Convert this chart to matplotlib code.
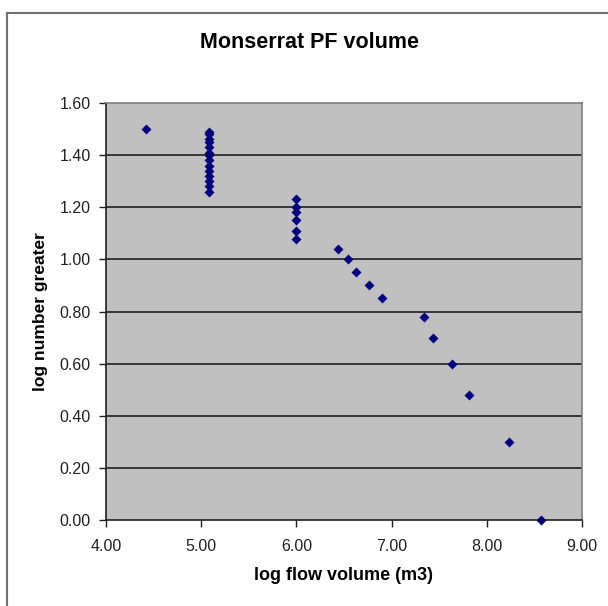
import numpy as np
import matplotlib
matplotlib.use("Agg")
import matplotlib.pyplot as plt
from matplotlib.lines import Line2D

plt.rcParams['font.family'] = ['Liberation Sans', 'DejaVu Sans']

# data
log_volume = [4.42,
              5.08, 5.08, 5.08, 5.08, 5.08, 5.08, 5.08, 5.08, 5.08, 5.08, 5.08, 5.08, 5.08, 5.08,
              6.00, 6.00, 6.00, 6.00, 6.00, 6.00,
              6.44, 6.54, 6.63, 6.76, 6.90, 7.34, 7.44, 7.63, 7.81, 8.23, 8.57]
log_number = [1.50,
              1.49, 1.48, 1.46, 1.45, 1.43, 1.41, 1.40, 1.38, 1.36, 1.34, 1.32, 1.30, 1.28, 1.26,
              1.23, 1.20, 1.18, 1.15, 1.11, 1.08,
              1.04, 1.00, 0.95, 0.90, 0.85, 0.78, 0.70, 0.60, 0.48, 0.30, 0.00]

x_ticks = [4, 5, 6, 7, 8, 9]
y_ticks = [0.0, 0.2, 0.4, 0.6, 0.8, 1.0, 1.2, 1.4, 1.6]

fig = plt.figure(figsize=(6.08, 6.06), dpi=100)
W, H = 608, 606

# outer chart border (left and top visible)
fig.add_artist(Line2D([7 / W, 7 / W], [0, 1 - 13 / H], color='#707070', lw=1.5))
fig.add_artist(Line2D([7 / W, 1], [1 - 13 / H, 1 - 13 / H], color='#707070', lw=1.5))

left, right, top, bottom = 106, 582, 103, 520
ax = fig.add_axes([left / W, 1 - bottom / H, (right - left) / W, (bottom - top) / H])
ax.set_facecolor('#c0c0c0')

for y in y_ticks[1:-1]:
    ax.axhline(y, color='#202020', lw=1.2, zorder=1)

ax.scatter(log_volume, log_number, marker='D', s=26, color='#000080',
           zorder=3, clip_on=False, linewidths=0)

ax.set_xlim(4, 9)
ax.set_ylim(0, 1.6)
ax.set_xticks(x_ticks)
ax.set_yticks(y_ticks)
ax.set_xticklabels([f"{v:.2f}" for v in x_ticks])
ax.set_yticklabels([f"{v:.2f}" for v in y_ticks])
ax.tick_params(direction='out', length=5, width=1, colors='#202020',
               labelsize=11.5)
ax.tick_params(axis='x', pad=9)
ax.tick_params(axis='y', pad=6)

for side in ['top', 'right']:
    ax.spines[side].set_color('#808080')
    ax.spines[side].set_linewidth(1.2)
for side in ['left', 'bottom']:
    ax.spines[side].set_color('#202020')
    ax.spines[side].set_linewidth(1.2)

ax.set_xlabel("log flow volume (m3)", fontsize=13, fontweight='bold', labelpad=9)
ax.set_ylabel("log number greater", fontsize=12.5, fontweight='bold', labelpad=8)

fig.text(309 / W, 1 - 43 / H, "Monserrat PF volume",
         ha='center', va='center', fontsize=15.5, fontweight='bold')

fig.savefig("out.png", dpi=100)
